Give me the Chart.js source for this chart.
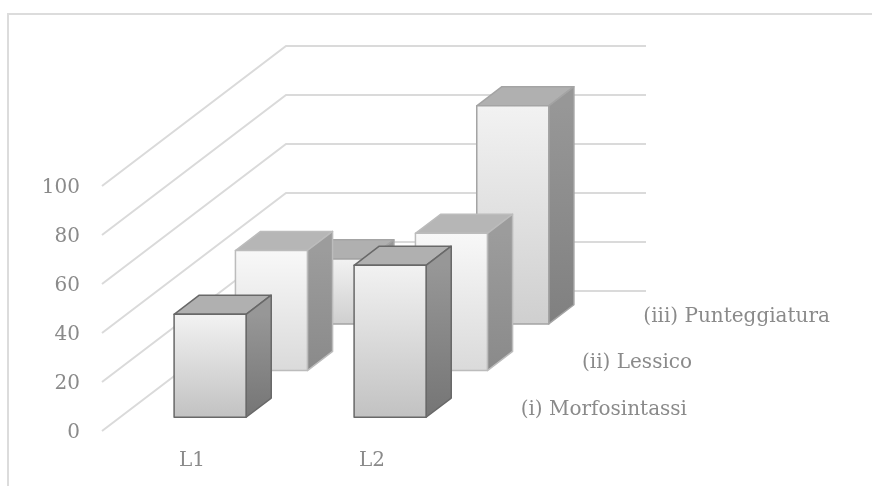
<!DOCTYPE html>
<html>
<head>
<meta charset="utf-8">
<title>Chart</title>
<script src="https://cdn.jsdelivr.net/npm/chart.js@4"></script>
<style>
  html, body { margin: 0; background: #fff; overflow: hidden; }
  #wrap { position: relative; width: 872px; height: 486px; }
  #frame { position: absolute; left: 7px; top: 13px; right: 0; bottom: 0;
           border-left: 2px solid #dcdcdc; border-top: 2px solid #dcdcdc; }
  canvas { position: absolute; left: 0; top: 0; }
</style>
</head>
<body>
<div id="wrap">
  <div id="frame"></div>
  <canvas id="myChart" width="872" height="486"></canvas>
</div>
<script>
// categories and series
const categories = ['L1', 'L2'];
const morfosintassi = [42, 62];
const lessico = [49, 56];
const punteggiatura = [26.5, 89];
const yTicks = [0, 20, 40, 60, 80, 100];

// how far the floor runs back, in pixels
const floorX = 184;
const floorY = -140;
// share of one series slot taken by the box depth
const boxDepth = 0.41;

const fontFamily = '"DejaVu Serif", serif';
const fontSize = 20;
const textColor = '#8a8a8a';

// face colours for each series, front one first
const looks = [
  { front: ['#f2f2f2', '#c2c2c2'], side: ['#979797', '#757575'], top: '#b0b0b0', edge: '#686868' },
  { front: ['#f8f8f8', '#dadada'], side: ['#9c9c9c', '#8a8a8a'], top: '#b6b6b6', edge: '#bcbcbc' },
  { front: ['#f2f2f2', '#cfcfcf'], side: ['#979797', '#808080'], top: '#b0b0b0', edge: '#a4a4a4' }
];

function face(ctx, pts, fill, edge) {
  ctx.beginPath();
  pts.forEach((p, i) => i ? ctx.lineTo(p[0], p[1]) : ctx.moveTo(p[0], p[1]));
  ctx.closePath();
  ctx.fillStyle = fill;
  ctx.fill();
  ctx.strokeStyle = edge;
  ctx.stroke();
}

function vertical(ctx, y0, y1, colors) {
  const g = ctx.createLinearGradient(0, y0, 0, y1);
  g.addColorStop(0, colors[0]);
  g.addColorStop(1, colors[1]);
  return g;
}

// walls, box faces and the series labels on the depth axis
const depthPlugin = {
  id: 'depth',
  beforeDatasetsDraw(chart) {
    const { ctx, chartArea, scales } = chart;
    const n = chart.data.datasets.length;
    ctx.save();
    ctx.strokeStyle = '#dadada';
    ctx.lineWidth = 2;
    yTicks.forEach((t) => {
      const y = scales.y.getPixelForValue(t);
      ctx.beginPath();
      ctx.moveTo(chartArea.left, y);
      ctx.lineTo(chartArea.left + floorX, y + floorY);
      ctx.lineTo(chartArea.right + floorX, y + floorY);
      ctx.stroke();
    });
    // series names along the right of the floor
    ctx.fillStyle = textColor;
    ctx.font = fontSize + 'px ' + fontFamily;
    ctx.textBaseline = 'middle';
    chart.data.datasets.forEach((ds, i) => {
      const f = (i + 0.5) / n;
      ctx.fillText(ds.label, chartArea.right + floorX * f + 28, chartArea.bottom + floorY * f + 2);
    });
    ctx.restore();
  },
  // the boxes replace the flat bars
  beforeDatasetDraw(chart, args) {
    const { ctx } = chart;
    const n = chart.data.datasets.length;
    const look = looks[args.index];
    const dx = floorX / n * boxDepth;
    const dy = floorY / n * boxDepth;
    const startX = floorX * (args.index + (1 - boxDepth) / 2) / n;
    const startY = floorY * (args.index + (1 - boxDepth) / 2) / n;
    ctx.save();
    ctx.lineWidth = 1.5;
    ctx.lineJoin = 'round';
    args.meta.data.forEach((bar) => {
      const l = bar.x - bar.width / 2 + startX;
      const r = bar.x + bar.width / 2 + startX;
      const t = bar.y + startY;
      const b = bar.base + startY;
      face(ctx, [[l, t], [l + dx, t + dy], [r + dx, t + dy], [r, t]], look.top, look.edge);
      face(ctx, [[r, t], [r + dx, t + dy], [r + dx, b + dy], [r, b]], vertical(ctx, t, b, look.side), look.edge);
      face(ctx, [[l, t], [r, t], [r, b], [l, b]], vertical(ctx, t, b, look.front), look.edge);
    });
    ctx.restore();
    return false;
  }
};

new Chart(document.getElementById('myChart'), {
  type: 'bar',
  data: {
    labels: categories,
    datasets: [
      { label: '(i) Morfosintassi', data: morfosintassi },
      { label: '(ii) Lessico', data: lessico },
      { label: '(iii) Punteggiatura', data: punteggiatura }
    ]
  },
  plugins: [depthPlugin],
  options: {
    responsive: false,
    animation: false,
    layout: { padding: { top: 186, right: 410, left: 0, bottom: 0 } },
    plugins: { legend: { display: false }, tooltip: { enabled: false } },
    datasets: { bar: { grouped: false, barPercentage: 0.4, categoryPercentage: 1 } },
    scales: {
      x: {
        grid: { display: false },
        border: { display: false },
        afterFit(scale) { scale.height = 55; },
        ticks: { color: textColor, padding: 10, font: { family: fontFamily, size: fontSize } }
      },
      y: {
        min: 0,
        max: 100,
        grid: { display: false },
        border: { display: false },
        afterFit(scale) { scale.width = 102; },
        afterBuildTicks(scale) { scale.ticks = yTicks.map((v) => ({ value: v })); },
        ticks: { color: textColor, padding: 14, labelOffset: 2, font: { family: fontFamily, size: fontSize } }
      }
    }
  }
});
</script>
</body>
</html>
